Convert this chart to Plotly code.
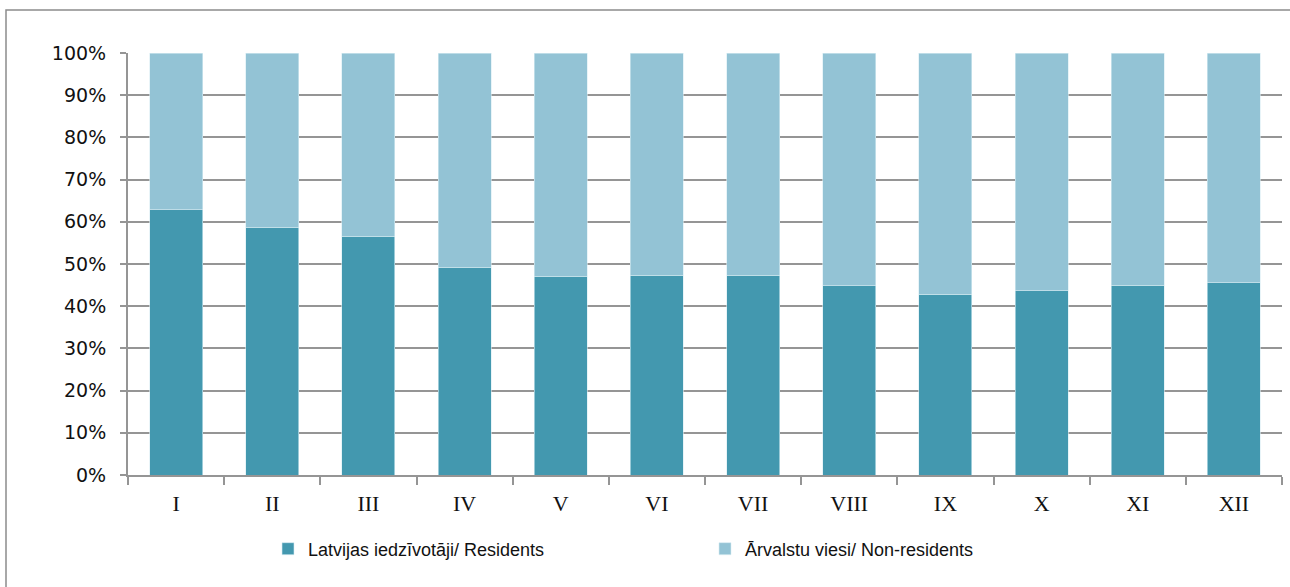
import plotly.graph_objects as go

months = ["I", "II", "III", "IV", "V", "VI", "VII", "VIII", "IX", "X", "XI", "XII"]
residents = [62.8, 58.7, 56.6, 49.2, 47.1, 47.3, 47.3, 44.9, 42.8, 43.7, 45.0, 45.5]
non_residents = [37.2, 41.3, 43.4, 50.8, 52.9, 52.7, 52.7, 55.1, 57.2, 56.3, 55.0, 54.5]
y_ticks = [0, 10, 20, 30, 40, 50, 60, 70, 80, 90, 100]
y_labels = ["0%", "10%", "20%", "30%", "40%", "50%", "60%", "70%", "80%", "90%", "100%"]
name_res = "Latvijas iedzīvotāji/ Residents"
name_non = "Ārvalstu viesi/ Non-residents"

W, H = 1290, 587
L, R, T, B = 128, 8, 53, 112
pw, ph = W - L - R, H - T - B

def px_x(x):
    return (x - L) / pw

def px_y(y):
    return (H - B - y) / ph

fig = go.Figure()
fig.add_trace(go.Bar(x=months, y=residents, name=name_res,
                     marker=dict(color="#4398AF", line=dict(width=0.6, color="#d8edf3"))))
fig.add_trace(go.Bar(x=months, y=non_residents, name=name_non,
                     marker=dict(color="#93C3D5", line=dict(width=0.6, color="#d8edf3"))))

grid = "#959595"
fig.update_layout(
    width=W, height=H, barmode="stack", bargap=0.45,
    margin=dict(l=L, r=R, t=T, b=B),
    paper_bgcolor="white", plot_bgcolor="white",
    font=dict(family="DejaVu Sans, Verdana", color="#111111", size=18),
    showlegend=True,
    legend=dict(orientation="h", x=px_x(268), xanchor="left", y=px_y(549), yanchor="middle",
                entrywidth=392, entrywidthmode="pixels", traceorder="normal",
                font=dict(family="Liberation Sans Narrow, Liberation Sans, Arial", size=18)),
    xaxis=dict(showgrid=False, showline=True, linecolor=grid, linewidth=2,
               ticks="outside", tickson="boundaries", ticklen=8, tickcolor=grid, tickwidth=2,
               tickfont=dict(family="Liberation Serif, Times New Roman", size=22),
               ticklabelstandoff=8),
    yaxis=dict(range=[0, 100], tickvals=y_ticks, ticktext=y_labels, showgrid=True,
               gridcolor=grid, gridwidth=2, showline=True, linecolor=grid, linewidth=2,
               ticks="outside", ticklen=6, tickcolor=grid, tickwidth=2,
               tickfont=dict(family="DejaVu Sans, Verdana", size=19),
               ticklabelstandoff=10, zeroline=False),
    shapes=[dict(type="rect", xref="paper", yref="paper",
                 x0=px_x(6), x1=px_x(1296), y0=px_y(600), y1=px_y(10),
                 line=dict(color="#8c8c8c", width=1.5), fillcolor="rgba(0,0,0,0)", layer="below")],
)

fig.write_html("out.html", config={"displayModeBar": False},
               post_script="document.body.style.margin='0';document.body.style.overflow='hidden';")
